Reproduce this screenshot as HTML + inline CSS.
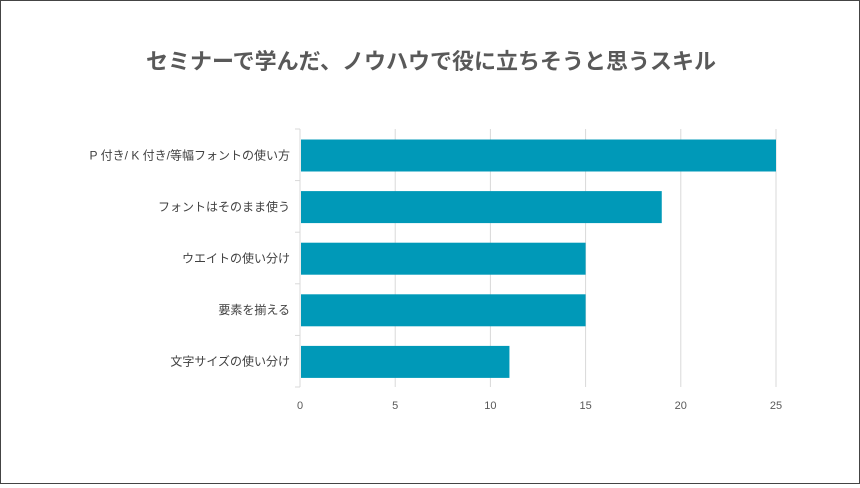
<!DOCTYPE html>
<html><head><meta charset="utf-8"><style>
body{margin:0;background:#fff}
#wrap{width:858px;height:482px;border:1px solid #444;position:relative;background:#fff}
svg text{font-family:"Liberation Sans","Noto Sans CJK JP",sans-serif}
</style></head><body>
<div id="wrap">
<svg id="c" width="858" height="482">
<text x="430" y="68" text-anchor="middle" font-size="22" font-weight="bold" fill="#595959">セミナーで学んだ、ノウハウで役に立ちそうと思うスキル</text>
</svg>
</div>
<script>
const categories=["P 付き/ K 付き/等幅フォントの使い方","フォントはそのまま使う","ウエイトの使い分け","要素を揃える","文字サイズの使い分け"];
const values=[25,19,15,15,11];
const ticks=[0,5,10,15,20,25];
const svgEl=document.getElementById('c');
const NS='http://www.w3.org/2000/svg';
const x0=299,pxPer=19.04,plotTop=128,band=51.6;
const xs=v=>x0+v*pxPer;
function mk(t,a){const e=document.createElementNS(NS,t);for(const k in a)e.setAttribute(k,a[k]);svgEl.appendChild(e);return e;}
ticks.forEach(t=>{
 const g=mk('line',{x1:xs(t),x2:xs(t),y1:plotTop,y2:plotTop+band*categories.length,stroke:'#d9d9d9','stroke-width':1});
 
 
 const l=mk('text',{x:xs(t),y:408,'text-anchor':'middle','font-size':11,fill:'#595959'});
 l.textContent=t;
 
 
});
for(let i=0;i<=categories.length;i++){
 const tk=mk('line',{x1:x0-5,x2:x0,y1:plotTop+band*i,y2:plotTop+band*i,stroke:'#d9d9d9'});
 
 
}
categories.forEach((c,i)=>{
 const y=plotTop+band*i;
 const b=mk('rect',{x:x0+1,y:y+10.5,width:xs(values[i])-x0-1,height:32,fill:'#0099b8'});
 
 
 const t=mk('text',{x:289,y:y+band/2+4.5,'text-anchor':'end','font-size':12,fill:'#404040'});
 t.textContent=c;
 
 
});
</script>
</body></html>
